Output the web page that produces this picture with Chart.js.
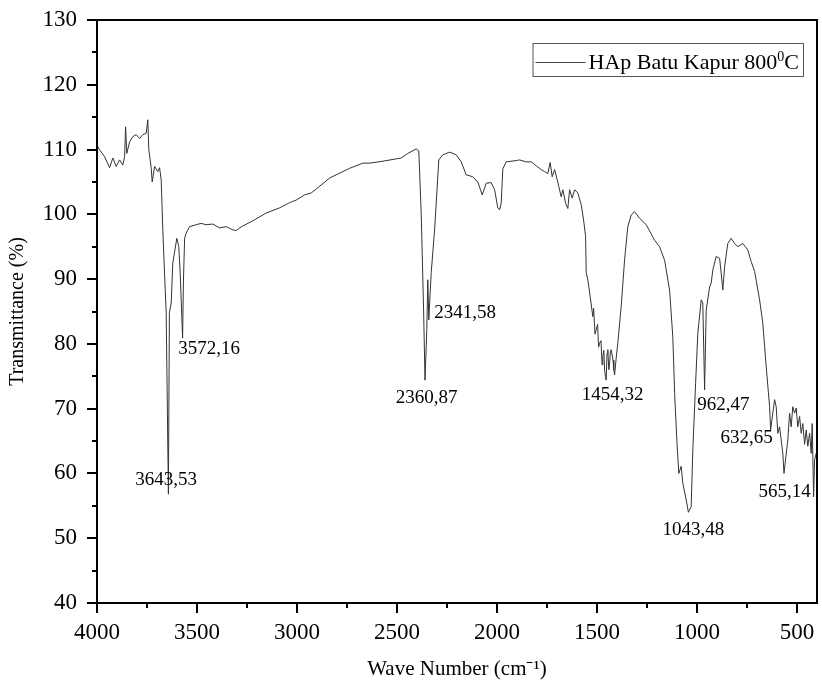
<!DOCTYPE html>
<html>
<head>
<meta charset="utf-8">
<script src="https://cdn.jsdelivr.net/npm/chart.js@4.4.1/dist/chart.umd.min.js"></script>
<style>
html, body { margin: 0; padding: 0; background: #fff; }
#wrap { width: 822px; height: 695px; }
</style>
</head>
<body>
<div id="wrap"><canvas id="ftir"></canvas></div>
<script>
// espectro (numero de onda / transmitancia)
const wave_number = [4000,3988,3962,3937,3921,3904,3887,3871,3862,3857,3851,3837,3821,3804,3787,3771,3754,3746,3741,3729,3724,3712,3696,3687,3679,3671,3663,3654,3643,3638,3629,3621,3612,3601,3591,3584,3572,3568,3562,3554,3537,3504,3479,3454,3421,3387,3354,3321,3304,3287,3271,3221,3154,3087,3037,3021,3004,2962,2929,2904,2837,2771,2737,2671,2637,2571,2479,2446,2404,2391,2379,2367,2360,2351,2346,2341,2329,2312,2291,2271,2237,2204,2179,2154,2121,2096,2074,2054,2029,2012,1996,1987,1979,1971,1954,1904,1887,1854,1829,1804,1779,1762,1746,1734,1724,1712,1701,1691,1679,1671,1657,1646,1637,1624,1612,1596,1579,1567,1557,1554,1546,1534,1521,1517,1510,1504,1497,1492,1487,1480,1475,1471,1466,1462,1458,1454,1450,1446,1441,1437,1433,1429,1420,1416,1412,1404,1396,1379,1362,1346,1329,1312,1287,1254,1212,1187,1162,1137,1121,1112,1101,1091,1079,1071,1054,1043,1029,1021,1007,996,979,971,962,954,937,929,921,904,887,879,871,862,846,829,812,796,771,746,729,712,687,671,662,654,637,632,612,604,596,587,571,565,546,537,529,521,512,504,496,487,479,471,462,454,446,437,429,424,417,412,404,400];
const transmittance = [110.7,110.0,108.9,107.2,108.7,107.4,108.4,107.6,108.9,113.5,109.4,111.2,112.0,112.3,111.7,112.3,112.5,114.6,110.0,107.2,105.0,107.4,106.6,107.2,105.3,97.6,91.4,84.8,56.8,84.8,86.3,92.5,94.2,96.3,95.0,90.9,80.9,89.4,96.3,97.1,98.1,98.4,98.6,98.4,98.5,97.9,98.1,97.6,97.5,97.9,98.2,99.0,100.2,101.0,101.8,102.0,102.2,103.0,103.3,103.9,105.6,106.6,107.1,107.9,107.9,108.2,108.7,109.4,110.1,109.8,100.2,85.2,74.4,82.2,89.9,83.7,91.0,97.6,108.4,109.2,109.6,109.2,108.1,106.1,105.8,105.0,103.0,104.8,104.9,103.8,101.0,100.7,101.7,107.0,108.1,108.3,108.4,108.1,108.1,107.5,106.9,106.6,106.3,108.0,105.8,106.9,105.6,104.3,102.7,103.8,101.7,100.9,103.8,102.5,103.8,103.3,101.5,99.1,96.6,91.0,89.9,87.3,84.2,85.5,81.5,82.2,83.0,79.5,80.1,80.5,76.8,78.0,79.0,76.0,75.0,74.4,78.5,79.1,76.0,77.0,78.8,79.1,77.5,76.0,75.2,77.8,80.1,85.8,93.0,98.1,99.9,100.4,99.4,98.4,96.0,95.0,92.9,88.3,81.1,72.5,65.2,60.0,61.1,58.5,55.9,54.0,54.9,63.6,73.9,81.6,86.8,86.3,72.9,85.2,88.8,89.4,91.4,93.5,93.2,90.9,88.3,91.9,95.5,96.3,95.5,95.0,95.5,94.5,92.7,91.2,86.8,83.2,79.6,76.5,70.3,66.7,71.4,70.3,66.2,67.2,63.1,60.0,65.2,69.3,67.2,70.3,69.3,70.1,67.2,68.8,66.2,67.7,64.5,66.7,64.2,66.2,63.1,67.7,56.4,62.1,63.1,62.5];

const x_ticks = [4000,3500,3000,2500,2000,1500,1000,500];
const y_ticks = [40,50,60,70,80,90,100,110,120,130];

// etiquetas de picos: texto y punto de anclaje (en unidades de los ejes)
const peak_text = ['3643,53','3572,16','2360,87','2341,58','1454,32','1043,48','962,47','632,65','565,14'];
const peak_x = [3655,3440,2352,2160,1422,1018,868,752,562];
const peak_y = [59.0,79.2,71.6,84.7,72.1,51.3,70.6,65.4,57.2];

const serie_label = 'HAp Batu Kapur 800';
const serie_sup = '0';
const serie_tail = 'C';

const fuente = "'Liberation Serif', 'Times New Roman', serif";

const marco_ticks = {
    id: 'marco_ticks',
    afterDatasetsDraw(chart) {
        const {ctx, chartArea: a, scales: {x, y}} = chart;
        ctx.save();
        ctx.strokeStyle = '#000';
        ctx.lineWidth = 2;
        ctx.strokeRect(a.left, a.top, a.right - a.left, a.bottom - a.top);
        ctx.beginPath();
        for (let v = 40; v <= 130; v += 5) {
            const py = Math.round(y.getPixelForValue(v));
            const len = v % 10 === 0 ? 10 : 5;
            ctx.moveTo(a.left - len, py);
            ctx.lineTo(a.left, py);
        }
        for (let v = 4000; v >= 500; v -= 250) {
            const px = Math.round(x.getPixelForValue(v));
            const len = v % 500 === 0 ? 10 : 5;
            ctx.moveTo(px, a.bottom);
            ctx.lineTo(px, a.bottom + len);
        }
        ctx.stroke();
        ctx.restore();
    }
};

const etiquetas_picos = {
    id: 'etiquetas_picos',
    afterDraw(chart) {
        const {ctx, scales: {x, y}} = chart;
        ctx.save();
        ctx.fillStyle = '#000';
        ctx.font = '19px ' + fuente;
        ctx.textAlign = 'center';
        ctx.textBaseline = 'middle';
        peak_text.forEach((t, i) => {
            ctx.fillText(t, x.getPixelForValue(peak_x[i]), y.getPixelForValue(peak_y[i]));
        });
        ctx.restore();
    }
};

const leyenda = {
    id: 'leyenda',
    afterDraw(chart) {
        const {ctx, chartArea: a} = chart;
        const right = a.right - 14, top = a.top + 23;
        ctx.save();
        ctx.font = '22px ' + fuente;
        const w1 = ctx.measureText(serie_label).width;
        ctx.font = '14px ' + fuente;
        const w2 = ctx.measureText(serie_sup).width;
        ctx.font = '22px ' + fuente;
        const w3 = ctx.measureText(serie_tail).width;
        const boxW = 56 + w1 + w2 + w3 + 4;
        const left = right - boxW;
        ctx.strokeStyle = '#555';
        ctx.lineWidth = 1;
        ctx.strokeRect(left + 0.5, top + 0.5, boxW, 33);
        ctx.strokeStyle = '#444';
        ctx.beginPath();
        ctx.moveTo(left + 3, top + 19.5);
        ctx.lineTo(left + 53, top + 19.5);
        ctx.stroke();
        ctx.fillStyle = '#000';
        ctx.textBaseline = 'alphabetic';
        ctx.textAlign = 'left';
        let tx = left + 56;
        ctx.fillText(serie_label, tx, top + 26);
        tx += w1;
        ctx.font = '14px ' + fuente;
        ctx.fillText(serie_sup, tx, top + 18);
        tx += w2;
        ctx.font = '22px ' + fuente;
        ctx.fillText(serie_tail, tx, top + 26);
        ctx.restore();
    }
};

const build_ftir_chart = (id_canvas) => {
    try {
        new Chart(id_canvas, {
            type: 'line',
            plugins: [marco_ticks, etiquetas_picos, leyenda],
            data: {
                datasets: [{
                    label: serie_label + serie_sup + serie_tail,
                    data: wave_number.map((w, i) => ({x: w, y: transmittance[i]})),
                    borderColor: '#333',
                    borderWidth: 1,
                    pointRadius: 0,
                    tension: 0,
                    fill: false
                }]
            },
            options: {
                responsive: true,
                maintainAspectRatio: false,
                animation: false,
                devicePixelRatio: 1,
                layout: { padding: { top: 20, right: 5, bottom: 0, left: 0 } },
                plugins: {
                    legend: { display: false },
                    tooltip: { enabled: false }
                },
                scales: {
                    x: {
                        type: 'linear',
                        reverse: true,
                        min: 400,
                        max: 4000,
                        afterBuildTicks: (s) => { s.ticks = x_ticks.map(v => ({value: v})); },
                        afterFit: (s) => { s.height = 92; s.paddingLeft = 0; s.paddingRight = 0; },
                        grid: { display: false, drawTicks: false },
                        border: { display: false },
                        ticks: { color: '#000', font: { family: fuente, size: 23 }, padding: 16, maxRotation: 0, autoSkip: false, callback: (v) => String(v) },
                        title: { display: true, text: 'Wave Number (cm\u207B\u00B9)', color: '#000', font: { family: fuente, size: 21 }, padding: { top: 0, bottom: 13 } }
                    },
                    y: {
                        min: 40,
                        max: 130,
                        afterBuildTicks: (s) => { s.ticks = y_ticks.map(v => ({value: v})); },
                        afterFit: (s) => { s.width = 97; s.paddingTop = 0; s.paddingBottom = 0; },
                        grid: { display: false, drawTicks: false },
                        border: { display: false },
                        ticks: { color: '#000', font: { family: fuente, size: 23 }, padding: 20, callback: (v) => String(v) },
                        title: { display: true, text: 'Transmittance (%)', color: '#000', font: { family: fuente, size: 20 }, padding: { top: 6, bottom: 0 } }
                    }
                }
            }
        });
    } catch (e) {
        console.error("Ocurrio un error", e);
    }
};

build_ftir_chart(document.getElementById('ftir'));
</script>
</body>
</html>
